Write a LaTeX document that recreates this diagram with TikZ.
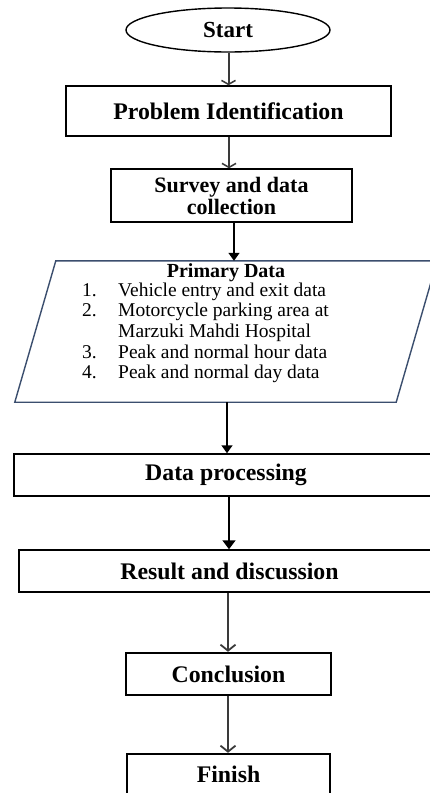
\documentclass[tikz,border=0pt]{standalone}
\usepackage{fontspec}
\setmainfont{Liberation Serif}
\usetikzlibrary{arrows.meta,shapes.geometric}
\definecolor{navy}{HTML}{3B4E6E}
\definecolor{arrgray}{HTML}{3A3A3A}
\tikzset{
  boxnode/.style={draw=black, line width=1.5pt, rectangle, inner sep=0pt, align=center,
    font=\bfseries\fontsize{23.8}{23.8}\selectfont},
  thickbox/.style={boxnode, line width=2.4pt},
  garrow/.style={draw=arrgray, line width=2pt, -{Straight Barb[length=6pt,width=15pt,line width=1.8pt]}},
  barrow/.style={draw=black, line width=1.6pt, -{Triangle[length=8pt,width=11pt]}},
}
\begin{document}
\begin{tikzpicture}[x=1pt,y=-1pt]
\useasboundingbox (0,0) rectangle (430,793);
\clip (0,0) rectangle (430,793);
\fill[white] (0,0) rectangle (430,793);

\node[boxnode, ellipse, minimum width=204pt, minimum height=44pt, line width=1.4pt, font=\bfseries\fontsize{23}{23}\selectfont] (start) at (228,30) {Start};
\node[boxnode, minimum width=325pt, minimum height=50pt] (prob) at (228.5,111) {Problem Identification};
\node[boxnode, minimum width=241pt, minimum height=53pt, font=\bfseries\fontsize{22}{22}\selectfont] (survey) at (231.5,195.5) {Survey and data\\collection};

% primary data parallelogram
\node[minimum width=422pt, minimum height=141pt, inner sep=0pt] (prim) at (226,331.5) {};
\draw[navy, line width=1.4pt] (prim.south west) -- ([xshift=-41pt]prim.south east) -- (prim.north east) -- ([xshift=41pt]prim.north west) -- cycle;
\node[font=\bfseries\fontsize{20}{20}\selectfont, inner sep=0pt] (ptitle) at (226,272.5) {Primary Data};
\node[anchor=north west, inner sep=0pt, align=left, font=\fontsize{19.5}{20.6}\selectfont] (plist) at (82,282.5)
 {\makebox[36pt][l]{1.}Vehicle entry and exit data\\
  \makebox[36pt][l]{2.}Motorcycle parking area at\\
  \makebox[36pt][l]{}Marzuki Mahdi Hospital\\
  \makebox[36pt][l]{3.}Peak and normal hour data\\
  \makebox[36pt][l]{4.}Peak and normal day data};

\node[boxnode, minimum width=424pt, minimum height=42pt] (dproc) at (226,475) {Data processing};
\node[boxnode, minimum width=421pt, minimum height=42pt] (result) at (229.5,571) {Result and discussion};
\node[thickbox, minimum width=205pt, minimum height=42pt] (concl) at (228.5,674) {Conclusion};
\node[thickbox, minimum width=203pt, minimum height=40pt] (finish) at (228.5,774) {Finish};

% connectors
\draw[garrow, -{Straight Barb[length=4pt,width=14pt,line width=1.5pt]}] ([xshift=0.5pt]start.south) -- ([xshift=0.5pt]start.south |- prob.north);
\draw[garrow, -{Straight Barb[length=4pt,width=14pt,line width=1.5pt]}] ([xshift=0.5pt]prob.south) -- ([xshift=0.5pt]prob.south |- survey.north);
\draw[barrow] ([xshift=2.5pt]survey.south) -- ([xshift=2.5pt]survey.south |- prim.north);
\draw[barrow] ([xshift=1pt]prim.south) -- ([xshift=1pt]prim.south |- dproc.north);
\draw[barrow, -{Triangle[length=9pt,width=13pt]}] ([xshift=3pt]dproc.south) -- ([xshift=3pt]dproc.south |- result.north);
\draw[garrow] ([xshift=-0.5pt]concl.north |- result.south) -- ([xshift=-0.5pt]concl.north);
\draw[garrow] ([xshift=-0.5pt]concl.south) -- ([xshift=-0.5pt]finish.north);
\end{tikzpicture}
\end{document}
